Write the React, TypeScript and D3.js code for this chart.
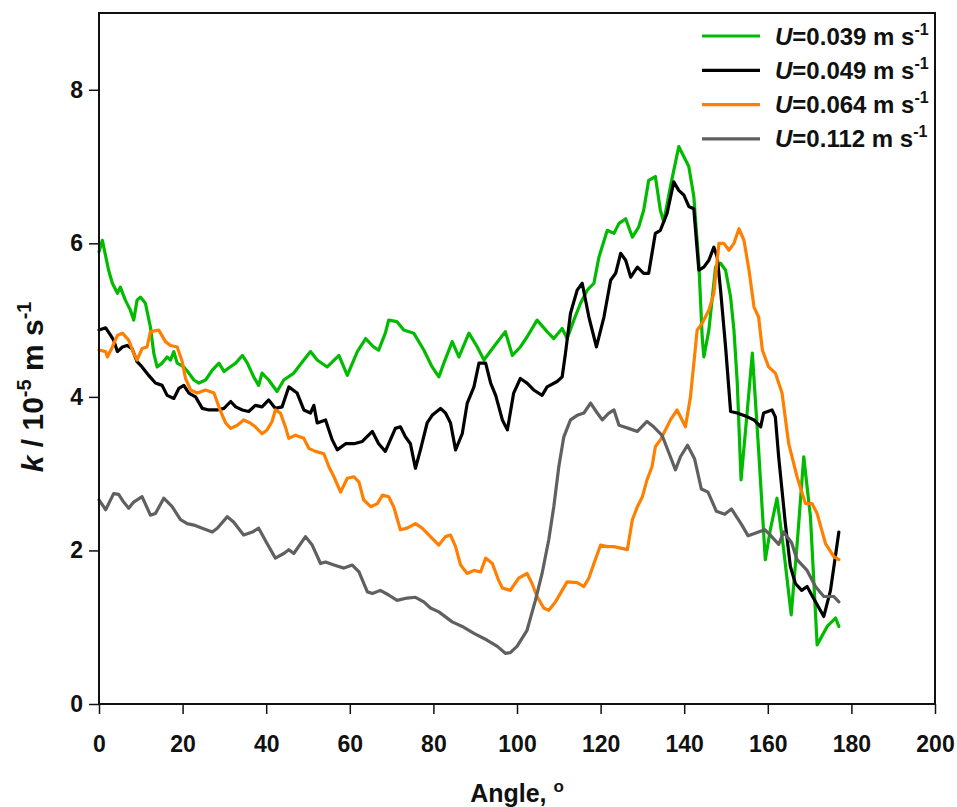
import React, { useRef, useEffect } from 'react';
import * as d3 from 'd3';

// angle (deg), k (10^-5 m/s)
const u039: [number, number][] = [
  [0, 5.89], [0.8, 6.04], [2.3, 5.65], [3.2, 5.48], [4.4, 5.35], [5.1, 5.43], [6.3, 5.26], [7.5, 5.13],
  [8.3, 5.0], [9.1, 5.26], [9.9, 5.3], [11.1, 5.22], [12.3, 4.91], [13.1, 4.57], [13.9, 4.39], [15.1, 4.44],
  [16.3, 4.52], [17.1, 4.48], [17.9, 4.59], [18.7, 4.44], [20.3, 4.39], [21.5, 4.31], [22.7, 4.22], [23.9, 4.18],
  [25.5, 4.22], [27.1, 4.35], [28.7, 4.44], [29.9, 4.33], [31.1, 4.38], [32.7, 4.44], [34.3, 4.54], [35.5, 4.44],
  [37.0, 4.26], [38.2, 4.15], [39.0, 4.31], [40.6, 4.22], [42.6, 4.07], [44.2, 4.22], [46.6, 4.31], [49.0, 4.48],
  [50.6, 4.59], [52.2, 4.48], [54.6, 4.39], [57.4, 4.54], [59.4, 4.28], [61.8, 4.59], [63.8, 4.76], [65.7, 4.65],
  [66.9, 4.61], [68.5, 4.83], [69.3, 5.0], [71.3, 4.98], [72.9, 4.87], [75.3, 4.83], [77.7, 4.61], [79.7, 4.39],
  [81.3, 4.26], [82.5, 4.44], [84.5, 4.72], [86.1, 4.52], [88.5, 4.83], [90.5, 4.65], [92.1, 4.48], [94.4, 4.65],
  [97.2, 4.85], [98.9, 4.54], [100.8, 4.65], [102.4, 4.78], [104.8, 5.0], [107.2, 4.85], [108.8, 4.76], [110.8, 4.89],
  [112.0, 4.76], [113.6, 5.0], [115.2, 5.22], [116.8, 5.39], [118.4, 5.48], [119.6, 5.82], [121.6, 6.17], [123.2, 6.13],
  [124.4, 6.26], [126.0, 6.32], [127.6, 6.08], [129.1, 6.21], [130.3, 6.43], [131.5, 6.82], [133.1, 6.87], [134.3, 6.43],
  [135.1, 6.28], [136.7, 6.74], [138.7, 7.26], [139.9, 7.13], [141.1, 7.0], [142.3, 6.61], [143.5, 5.74], [144.3, 4.78],
  [144.7, 4.52], [145.9, 4.87], [147.5, 5.69], [148.7, 5.74], [149.9, 5.65], [151.1, 5.3], [151.9, 4.87], [152.7, 4.18],
  [153.6, 2.92], [154.9, 3.7], [156.3, 4.57], [157.8, 3.31], [159.4, 1.88], [160.6, 2.27], [162.2, 2.68], [163.8, 2.01],
  [165.6, 1.16], [167.1, 2.14], [168.6, 3.22], [170.2, 2.44], [171.8, 0.77], [174.2, 1.01], [176.2, 1.12], [177.0, 1.01],
];

const u049: [number, number][] = [
  [0, 4.87], [1.6, 4.9], [2.8, 4.8], [3.5, 4.74], [4.4, 4.59], [5.6, 4.65], [6.7, 4.67], [7.9, 4.63],
  [9.1, 4.46], [10.3, 4.39], [11.9, 4.28], [13.5, 4.18], [15.1, 4.15], [16.3, 4.02], [17.9, 3.98], [19.1, 4.11],
  [20.3, 4.15], [21.5, 4.05], [23.1, 4.0], [24.7, 3.85], [26.3, 3.83], [28.3, 3.83], [29.9, 3.85], [31.5, 3.94],
  [32.7, 3.87], [34.3, 3.83], [35.8, 3.81], [37.4, 3.89], [39.0, 3.87], [40.6, 3.96], [42.2, 3.85], [43.8, 3.87],
  [45.4, 4.13], [47.4, 4.05], [49.0, 3.83], [50.6, 3.79], [51.4, 3.89], [52.2, 3.66], [54.2, 3.7], [55.8, 3.44],
  [57.0, 3.31], [59.0, 3.39], [61.0, 3.39], [63.0, 3.42], [65.4, 3.55], [66.9, 3.39], [68.5, 3.29], [69.7, 3.44],
  [70.9, 3.59], [72.1, 3.61], [73.3, 3.48], [74.5, 3.39], [75.7, 3.07], [76.9, 3.31], [78.5, 3.66], [79.7, 3.76],
  [81.7, 3.85], [82.9, 3.79], [84.1, 3.66], [85.3, 3.31], [86.9, 3.52], [88.1, 3.92], [89.7, 4.13], [90.9, 4.44],
  [92.5, 4.44], [93.7, 4.18], [94.9, 4.02], [96.5, 3.7], [97.7, 3.57], [99.2, 4.05], [100.8, 4.24], [102.4, 4.18],
  [104.0, 4.09], [106.0, 4.02], [107.2, 4.13], [109.6, 4.2], [110.8, 4.26], [111.6, 4.57], [112.8, 5.09], [114.4, 5.39],
  [115.6, 5.48], [117.2, 5.04], [119.0, 4.65], [120.8, 5.04], [122.4, 5.52], [123.6, 5.61], [124.8, 5.87], [126.0, 5.78],
  [127.2, 5.56], [128.8, 5.69], [130.3, 5.61], [131.5, 5.61], [133.1, 6.13], [134.3, 6.17], [135.9, 6.39], [137.5, 6.8],
  [138.7, 6.69], [139.9, 6.63], [141.1, 6.48], [142.3, 6.45], [143.5, 5.65], [144.7, 5.69], [145.9, 5.78], [147.1, 5.95],
  [147.9, 5.82], [148.7, 5.39], [149.9, 4.65], [151.1, 3.81], [152.7, 3.79], [155.1, 3.74], [156.7, 3.7], [158.3, 3.61],
  [159.0, 3.79], [161.0, 3.83], [161.8, 3.74], [162.6, 3.22], [164.2, 2.35], [165.4, 1.79], [166.6, 1.57], [168.1, 1.48],
  [169.4, 1.53], [170.5, 1.42], [173.4, 1.14], [175.0, 1.48], [177.0, 2.24],
];

const u064: [number, number][] = [
  [0, 4.61], [1.6, 4.59], [2.0, 4.52], [3.2, 4.65], [4.4, 4.8], [5.6, 4.83], [7.1, 4.74], [8.3, 4.57],
  [9.1, 4.48], [10.3, 4.63], [11.5, 4.65], [12.3, 4.85], [14.3, 4.87], [15.9, 4.72], [17.1, 4.67], [18.7, 4.65],
  [19.9, 4.46], [20.7, 4.24], [21.9, 4.09], [23.5, 4.05], [25.5, 4.09], [27.5, 4.05], [29.1, 3.81], [30.3, 3.66],
  [31.5, 3.59], [33.1, 3.63], [34.6, 3.7], [36.2, 3.66], [37.4, 3.61], [39.0, 3.52], [40.2, 3.57], [41.4, 3.68],
  [42.2, 3.83], [43.4, 3.79], [44.6, 3.61], [45.4, 3.46], [47.0, 3.5], [49.0, 3.46], [50.2, 3.33], [51.8, 3.29],
  [53.8, 3.26], [55.0, 3.09], [56.2, 2.96], [57.8, 2.76], [59.4, 2.94], [61.0, 2.96], [62.2, 2.89], [63.3, 2.66],
  [65.0, 2.57], [66.6, 2.61], [67.8, 2.72], [69.3, 2.7], [70.5, 2.57], [72.1, 2.27], [73.7, 2.29], [75.7, 2.35],
  [77.3, 2.29], [79.3, 2.18], [81.3, 2.07], [82.9, 2.18], [84.1, 2.2], [85.3, 2.05], [86.5, 1.81], [88.1, 1.7],
  [89.7, 1.74], [91.3, 1.72], [92.5, 1.9], [94.1, 1.83], [95.6, 1.61], [96.5, 1.51], [98.4, 1.48], [100.4, 1.64],
  [102.4, 1.7], [103.6, 1.57], [104.8, 1.4], [106.4, 1.25], [107.6, 1.22], [109.2, 1.33], [110.8, 1.48], [112.0, 1.59],
  [114.4, 1.58], [116.0, 1.53], [117.2, 1.64], [118.4, 1.83], [120.0, 2.07], [121.6, 2.05], [123.2, 2.05], [124.8, 2.03],
  [126.4, 2.01], [127.6, 2.4], [128.8, 2.57], [130.0, 2.7], [131.1, 2.92], [132.3, 3.09], [133.1, 3.35], [134.3, 3.44],
  [135.9, 3.61], [136.7, 3.7], [138.3, 3.83], [140.3, 3.61], [141.5, 4.0], [143.1, 4.87], [144.3, 4.96], [145.9, 5.13],
  [147.1, 5.35], [148.3, 6.0], [149.5, 6.0], [150.7, 5.91], [151.9, 6.0], [153.1, 6.19], [154.3, 6.04], [155.5, 5.65],
  [156.7, 5.17], [157.8, 5.04], [158.7, 4.61], [160.2, 4.39], [161.8, 4.31], [163.4, 4.05], [165.0, 3.39], [167.0, 2.96],
  [169.0, 2.61], [170.6, 2.61], [171.8, 2.48], [173.8, 2.09], [175.8, 1.92], [177.0, 1.88],
];

const u112: [number, number][] = [
  [0, 2.66], [1.6, 2.53], [3.5, 2.74], [4.7, 2.73], [5.9, 2.63], [7.1, 2.55], [8.3, 2.63], [10.3, 2.7],
  [12.3, 2.46], [13.5, 2.48], [15.5, 2.68], [17.5, 2.57], [19.5, 2.4], [21.1, 2.35], [22.7, 2.33], [24.7, 2.29],
  [27.1, 2.24], [28.3, 2.29], [30.7, 2.44], [32.2, 2.37], [34.6, 2.2], [36.7, 2.24], [38.2, 2.29], [40.2, 2.09],
  [42.2, 1.9], [44.2, 1.96], [45.4, 2.01], [46.6, 1.96], [49.4, 2.18], [51.0, 2.07], [53.0, 1.83], [54.2, 1.85],
  [56.2, 1.81], [58.6, 1.77], [60.6, 1.81], [62.2, 1.72], [64.2, 1.46], [65.4, 1.44], [67.3, 1.48], [69.3, 1.42],
  [71.3, 1.35], [73.7, 1.38], [75.7, 1.39], [77.7, 1.33], [79.3, 1.25], [81.3, 1.2], [84.5, 1.07], [86.9, 1.01],
  [89.7, 0.92], [92.9, 0.83], [95.3, 0.75], [97.2, 0.66], [98.4, 0.67], [100.0, 0.75], [102.4, 0.96], [104.4, 1.35],
  [106.0, 1.7], [107.6, 2.14], [108.8, 2.57], [110.0, 3.09], [111.2, 3.48], [112.8, 3.7], [114.4, 3.76], [116.0, 3.79],
  [117.6, 3.92], [119.2, 3.79], [120.4, 3.7], [122.0, 3.79], [123.2, 3.83], [124.4, 3.63], [126.7, 3.59], [128.8, 3.55],
  [131.1, 3.68], [132.7, 3.61], [134.7, 3.5], [136.7, 3.22], [137.9, 3.05], [139.1, 3.22], [140.8, 3.37], [142.5, 3.19],
  [144.1, 2.8], [145.7, 2.76], [147.7, 2.51], [149.7, 2.47], [151.3, 2.54], [153.7, 2.34], [155.3, 2.19], [157.3, 2.23],
  [159.3, 2.27], [160.6, 2.2], [162.6, 2.08], [163.8, 2.24], [165.7, 2.1], [167.0, 1.88], [169.4, 1.74], [171.4, 1.53],
  [173.4, 1.4], [175.8, 1.4], [177.0, 1.33],
];

const seriesLabels = ['0.039', '0.049', '0.064', '0.112'];
const seriesColors = ['#00bb00', '#000000', '#ff7f00', '#606060'];
const angleTicks = [0, 20, 40, 60, 80, 100, 120, 140, 160, 180, 200];
const kTicks = [0, 2, 4, 6, 8];

const W = 957;
const H = 807;
const margin = { left: 99, right: 22, top: 13, bottom: 103 };
const FONT = 'Liberation Sans, Arial, sans-serif';

const App = () => {
  const svgRef = useRef<SVGSVGElement>(null);

  useEffect(() => {
    const svg = d3.select(svgRef.current);
    svg.selectAll('*').remove();

    const x = d3.scaleLinear().domain([0, 200]).range([margin.left, W - margin.right]);
    const y = d3.scaleLinear().domain([0, 9]).range([H - margin.bottom, margin.top]);

    svg.append('rect').attr('width', W).attr('height', H).attr('fill', '#ffffff');

    const line = d3.line<[number, number]>()
      .x(d => x(d[0]))
      .y(d => y(d[1]));

    const allSeries = [u039, u049, u064, u112];
    allSeries.forEach((s, i) => {
      svg.append('path')
        .datum(s)
        .attr('d', line)
        .attr('fill', 'none')
        .attr('stroke', seriesColors[i])
        .attr('stroke-width', 3.2)
        .attr('stroke-linejoin', 'round')
        .attr('stroke-linecap', 'round');
    });

    // frame
    svg.append('rect')
      .attr('x', x(0)).attr('y', y(9))
      .attr('width', x(200) - x(0)).attr('height', y(0) - y(9))
      .attr('fill', 'none').attr('stroke', '#111').attr('stroke-width', 2);

    const xAxis = svg.append('g')
      .attr('transform', `translate(0,${y(0)})`)
      .call(d3.axisBottom(x).tickValues(angleTicks).tickSize(10).tickPadding(22).tickFormat(d3.format('d')));
    const yAxis = svg.append('g')
      .attr('transform', `translate(${x(0)},0)`)
      .call(d3.axisLeft(y).tickValues(kTicks).tickSize(10).tickPadding(6).tickFormat(d3.format('d')));

    [xAxis, yAxis].forEach(g => {
      g.select('.domain').remove();
      g.selectAll('line').attr('stroke', '#111').attr('stroke-width', 1.5);
      g.selectAll('text')
        .attr('font-family', FONT)
        .attr('font-weight', 'bold')
        .attr('font-size', 23)
        .attr('fill', '#111');
    });

    // axis titles
    const xt = svg.append('text')
      .attr('x', (x(0) + x(200)) / 2)
      .attr('y', 802)
      .attr('text-anchor', 'middle')
      .attr('font-family', FONT).attr('font-weight', 'bold').attr('font-size', 25).attr('fill', '#111');
    xt.append('tspan').text('Angle, ');
    xt.append('tspan').attr('font-size', 17).attr('dy', -10).text('o');

    const yt = svg.append('text')
      .attr('transform', `translate(43,${y(4.13)}) rotate(-90)`)
      .attr('text-anchor', 'middle')
      .attr('font-family', FONT).attr('font-weight', 'bold').attr('font-size', 30).attr('fill', '#111');
    yt.append('tspan').attr('font-style', 'italic').text('k');
    yt.append('tspan').text(' / 10');
    yt.append('tspan').attr('font-size', 20).attr('dy', -12).text('-5');
    yt.append('tspan').attr('dy', 12).text(' m s');
    yt.append('tspan').attr('font-size', 20).attr('dy', -12).text('-1');

    // legend
    const legend = svg.append('g');
    seriesLabels.forEach((lab, i) => {
      const ly = 36 + i * 34.3;
      legend.append('line')
        .attr('x1', 702).attr('x2', 760).attr('y1', ly).attr('y2', ly)
        .attr('stroke', seriesColors[i]).attr('stroke-width', 3.2);
      const t = legend.append('text')
        .attr('x', 775).attr('y', ly + 8.5)
        .attr('font-family', FONT).attr('font-weight', 'bold').attr('font-size', 24).attr('fill', '#111');
      t.append('tspan').attr('font-style', 'italic').text('U');
      t.append('tspan').text(`=${lab} m s`);
      t.append('tspan').attr('font-size', 16).attr('dy', -10).text('-1');
    });
  }, []);

  return (
    <svg
      ref={svgRef}
      width={W}
      height={H}
      style={{ position: 'absolute', left: 0, top: 0, display: 'block' }}
    />
  );
};

export default App;
